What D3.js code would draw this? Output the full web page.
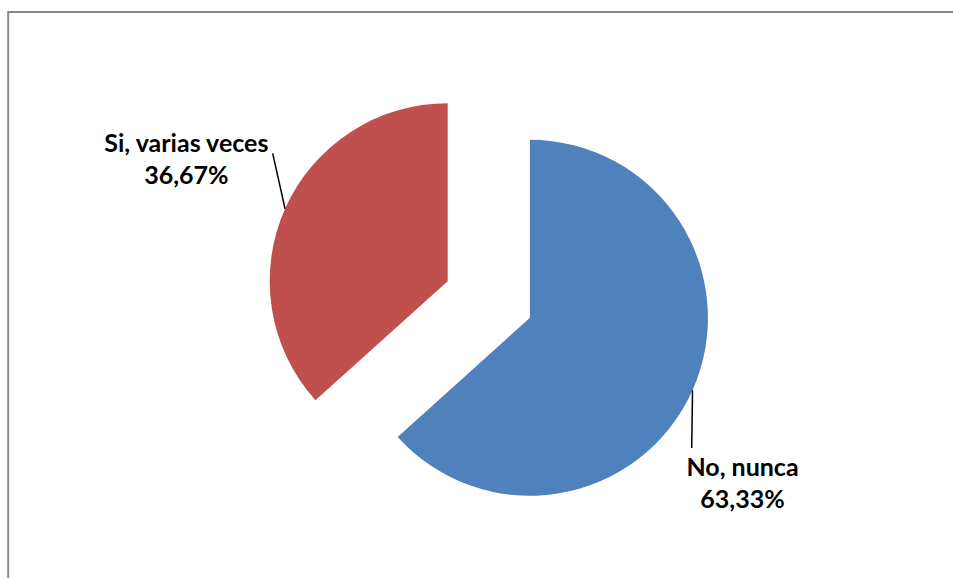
<!DOCTYPE html>
<html>
<head>
<meta charset="utf-8">
<script src="https://cdn.jsdelivr.net/npm/d3@7"></script>
<style>
  html, body { margin: 0; padding: 0; background: #fff; }
  svg { display: block; }
  .lbl { font-family: Lato, "Open Sans", "Liberation Sans", sans-serif; font-weight: 700; fill: #000; }
</style>
</head>
<body>
<svg id="chart" width="953" height="578"></svg>
<script>
// Survey answers and their shares (%)
const categories = ["No, nunca", "Si, varias veces"];
const values = [63.33, 36.67];
const colors = ["#4F81BD", "#C0504D"];

// Layout
const W = 953, H = 578;
const center = { x: 488.8, y: 299.5 };
const radius = 178;
const explode = 45;
// label block centre (x, first baseline) and leader end point, per slice
const labelLayout = [
  { x: 742.5, y: 476, line: [691.7, 448] },
  { x: 186.4, y: 152, line: [272.7, 153.3] }
];
const lineGap = 31.5;
const fontSize = 25;

const svg = d3.select("#chart");

// chart frame (runs off the right and bottom edges)
svg.append("rect")
  .attr("x", 8.2).attr("y", 12)
  .attr("width", W + 20).attr("height", H + 20)
  .attr("fill", "none")
  .attr("stroke", "#8a8a8a")
  .attr("stroke-width", 2);

const pie = d3.pie().sort(null).value(d => d)(values);
const arc = d3.arc().innerRadius(0).outerRadius(radius);

const fmt = v => d3.format(".2f")(v).replace(".", ",") + "%";

const sliceCenter = d => {
  const mid = (d.startAngle + d.endAngle) / 2;
  return [center.x + explode * Math.sin(mid), center.y - explode * Math.cos(mid), mid];
};

const slices = svg.append("g").selectAll("g")
  .data(pie)
  .join("g")
  .attr("transform", d => {
    const [cx, cy] = sliceCenter(d);
    return `translate(${cx},${cy})`;
  });

slices.append("path")
  .attr("d", arc)
  .attr("fill", (d, i) => colors[i]);

// leader lines: from the arc at the slice mid-angle to the label
pie.forEach((d, i) => {
  const [cx, cy, mid] = sliceCenter(d);
  const sx = cx + radius * Math.sin(mid);
  const sy = cy - radius * Math.cos(mid);
  const [ex, ey] = labelLayout[i].line;
  svg.append("line")
    .attr("x1", sx).attr("y1", sy)
    .attr("x2", ex).attr("y2", ey)
    .attr("stroke", "#000")
    .attr("stroke-width", 1.5);
});

// data labels: category name and percentage
pie.forEach((d, i) => {
  const L = labelLayout[i];
  const t = svg.append("text")
    .attr("class", "lbl")
    .attr("text-anchor", "middle")
    .attr("font-size", fontSize);
  t.append("tspan").attr("x", L.x).attr("y", L.y).text(categories[i]);
  t.append("tspan").attr("x", L.x).attr("y", L.y + lineGap).text(fmt(values[i]));
});
</script>
</body>
</html>
